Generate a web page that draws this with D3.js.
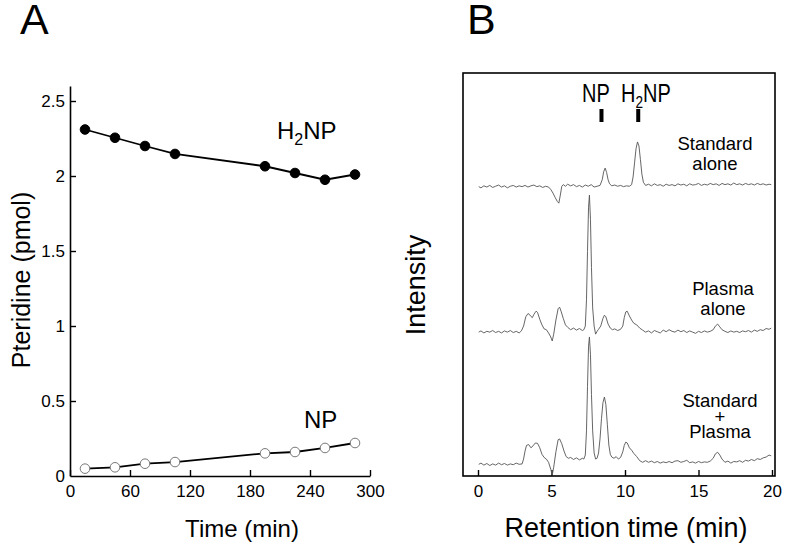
<!DOCTYPE html>
<html><head><meta charset="utf-8">
<script src="https://cdn.jsdelivr.net/npm/d3@7/dist/d3.min.js"></script>
<style>body{margin:0;background:#fff}svg{display:block;font-family:"Liberation Sans",Arial,Helvetica,sans-serif}</style>
</head><body><svg id="c" width="789" height="549"></svg>
<script>
// ---------- Panel A data ----------
const timesA = [15, 45, 75, 105, 195, 225, 255, 285];
const h2npValues = [2.31, 2.255, 2.2, 2.147, 2.065, 2.02, 1.975, 2.01];
const npValues = [0.049, 0.058, 0.082, 0.093, 0.151, 0.16, 0.187, 0.22];
const xTicksA = [0, 60, 120, 180, 240, 300];
const yTicksA = [0, 0.5, 1, 1.5, 2, 2.5];

// ---------- Panel B data (retention time, relative intensity) ----------
const xTicksB = [0, 5, 10, 15, 20];
const traceNames = ["Standard alone", "Plasma alone", "Standard + Plasma"];
const traceOffsets = [71.7, 35.7, 3.2];
const markerTimes = [8.4, 10.9];
const standardAlone = [[0.05,0.1],[0.2,-0.2],[0.4,0.3],[0.6,0.0],[0.8,0.4],[1.0,-0.1],[1.2,0.2],[1.4,0.5],[1.6,0.0],[1.8,0.3],[2.0,-0.2],[2.2,0.2],[2.4,0.4],[2.6,0.0],[2.8,0.3],[3.0,0.1],[3.2,0.4],[3.4,0.0],[3.6,0.3],[3.8,0.5],[4.0,0.1],[4.2,0.3],[4.4,-0.1],[4.6,0.2],[4.8,0.0],[4.95,-0.6],[5.1,-1.5],[5.25,-2.6],[5.4,-3.6],[5.5,-4.0],[5.6,-2.0],[5.7,0.2],[5.8,0.6],[5.95,0.2],[6.1,0.7],[6.3,0.3],[6.5,0.6],[6.7,0.1],[6.9,0.4],[7.1,0.0],[7.3,0.5],[7.5,0.2],[7.7,0.6],[7.9,0.0],[8.1,0.2],[8.3,0.4],[8.45,1.8],[8.55,3.8],[8.65,4.7],[8.75,3.6],[8.85,1.8],[8.95,0.8],[9.1,0.3],[9.3,0.5],[9.5,0.2],[9.7,0.4],[9.9,0.1],[10.1,0.3],[10.3,0.2],[10.45,0.6],[10.55,2.5],[10.65,6.0],[10.75,9.5],[10.85,11.2],[10.95,10.2],[11.05,6.8],[11.15,3.2],[11.25,1.2],[11.4,0.4],[11.6,0.7],[11.8,0.3],[12.0,0.8],[12.2,0.4],[12.4,0.6],[12.6,0.2],[12.8,0.7],[13.0,0.4],[13.2,0.6],[13.4,0.3],[13.6,0.8],[13.8,0.5],[14.0,0.7],[14.2,0.3],[14.4,0.8],[14.6,0.5],[14.8,0.6],[15.0,0.9],[15.2,0.4],[15.4,0.7],[15.6,0.5],[15.8,0.9],[16.0,0.6],[16.2,0.8],[16.4,0.4],[16.6,0.9],[16.8,0.6],[17.0,0.8],[17.2,0.5],[17.4,1.0],[17.6,0.6],[17.8,0.8],[18.0,0.5],[18.2,0.9],[18.4,0.6],[18.6,0.8],[18.8,0.5],[19.0,0.9],[19.2,0.6],[19.4,0.8],[19.6,0.5],[19.8,0.7],[19.95,0.6]];
const plasmaAlone = [[0.05,0.0],[0.2,0.3],[0.4,-0.2],[0.6,0.2],[0.8,0.0],[1.0,0.4],[1.2,-0.1],[1.4,0.2],[1.6,-0.2],[1.8,0.3],[2.0,0.0],[2.2,0.4],[2.4,-0.1],[2.6,0.2],[2.8,-0.2],[2.95,0.3],[3.1,1.5],[3.25,3.8],[3.4,4.6],[3.5,4.4],[3.6,3.9],[3.7,3.6],[3.8,4.4],[3.95,5.2],[4.05,4.9],[4.2,3.2],[4.35,1.8],[4.5,0.8],[4.65,0.6],[4.8,-0.2],[4.95,-1.2],[5.05,-2.2],[5.15,-0.5],[5.3,3.0],[5.45,5.8],[5.55,6.2],[5.65,5.2],[5.8,3.4],[5.95,1.8],[6.1,1.2],[6.3,0.6],[6.5,1.0],[6.7,0.5],[6.9,0.9],[7.1,0.4],[7.2,0.6],[7.3,1.5],[7.38,8],[7.45,20],[7.52,31],[7.58,34],[7.65,28],[7.72,16],[7.8,6],[7.9,1.5],[8.0,-0.5],[8.1,0.2],[8.2,0.7],[8.35,1.5],[8.5,3.4],[8.6,4.2],[8.7,3.8],[8.85,2.0],[9.0,1.0],[9.15,0.6],[9.3,0.8],[9.5,0.4],[9.7,0.7],[9.85,1.5],[9.95,3.6],[10.05,5.0],[10.15,5.2],[10.3,4.0],[10.45,3.0],[10.6,2.2],[10.8,1.8],[11.0,1.0],[11.2,0.5],[11.4,0.0],[11.6,0.3],[11.8,-0.2],[12.0,0.4],[12.2,0.1],[12.4,-0.2],[12.6,0.5],[12.8,0.1],[13.0,0.6],[13.2,0.2],[13.4,0.0],[13.6,0.5],[13.8,0.1],[14.0,0.4],[14.2,-0.1],[14.4,0.3],[14.6,0.0],[14.8,-0.3],[15.0,0.2],[15.2,-0.1],[15.4,0.3],[15.6,0.0],[15.8,0.2],[16.0,0.6],[16.15,1.5],[16.3,2.0],[16.45,1.3],[16.6,0.6],[16.8,0.2],[17.0,-0.1],[17.2,0.3],[17.4,0.0],[17.6,0.2],[17.8,-0.1],[18.0,0.3],[18.2,0.1],[18.4,0.4],[18.6,0.0],[18.8,0.5],[19.0,0.2],[19.2,0.6],[19.4,0.4],[19.6,0.9],[19.8,0.7],[19.95,1.0]];
const standardPlusPlasma = [[0.05,-0.3],[0.2,0.0],[0.4,-0.5],[0.6,-0.1],[0.8,-0.6],[1.0,-0.2],[1.2,-0.5],[1.4,0.0],[1.6,-0.4],[1.8,-0.1],[2.0,-0.5],[2.2,-0.2],[2.4,-0.4],[2.6,0.0],[2.8,-0.3],[3.0,-0.2],[3.1,1.0],[3.2,3.0],[3.3,4.4],[3.45,4.6],[3.6,3.8],[3.75,4.3],[3.9,5.0],[4.05,4.9],[4.2,3.8],[4.35,2.2],[4.5,1.4],[4.65,1.0],[4.8,0.2],[4.95,-1.5],[5.05,-3.0],[5.15,-1.0],[5.3,2.8],[5.45,5.8],[5.55,6.0],[5.7,4.8],[5.85,3.0],[6.0,1.6],[6.15,1.2],[6.3,1.4],[6.5,0.9],[6.7,1.3],[6.9,0.8],[7.1,1.2],[7.2,1.0],[7.3,2.0],[7.38,8],[7.45,19],[7.52,29],[7.58,31.3],[7.65,27],[7.72,17],[7.8,8],[7.9,2.5],[8.0,1.0],[8.1,1.2],[8.2,2.5],[8.3,6],[8.4,11],[8.5,15],[8.6,16.4],[8.7,14.5],[8.8,9.5],[8.9,4.5],[9.0,2.2],[9.1,1.5],[9.25,1.2],[9.4,1.6],[9.55,1.0],[9.7,1.4],[9.85,2.8],[9.95,4.4],[10.05,5.2],[10.15,5.0],[10.3,3.8],[10.45,3.2],[10.6,2.4],[10.8,1.6],[11.0,0.6],[11.2,0.2],[11.4,0.6],[11.6,0.2],[11.8,0.5],[12.0,0.1],[12.2,0.4],[12.4,0.0],[12.6,0.3],[12.8,0.1],[13.0,0.4],[13.2,0.1],[13.4,0.5],[13.6,0.6],[13.8,0.2],[14.0,0.4],[14.2,0.7],[14.4,0.1],[14.6,0.3],[14.8,0.0],[15.0,0.4],[15.2,0.1],[15.4,0.3],[15.6,0.2],[15.8,0.5],[16.0,1.2],[16.15,2.3],[16.3,2.7],[16.45,2.0],[16.6,1.0],[16.8,0.2],[17.0,0.5],[17.2,0.0],[17.4,0.4],[17.6,0.3],[17.8,0.6],[18.0,0.2],[18.2,0.7],[18.4,0.5],[18.6,0.9],[18.8,0.6],[19.0,1.1],[19.2,0.9],[19.4,1.3],[19.6,1.5],[19.8,2.0],[19.95,1.8]];
const traces = [standardAlone, plasmaAlone, standardPlusPlasma];

const svg = d3.select("#c");

// ---------- Panel A ----------
const xA = d3.scaleLinear().domain([0, 300]).range([70, 370]);
const yA = d3.scaleLinear().domain([0, 2.6]).range([476, 86]);
const gA = svg.append("g");

gA.append("g").attr("transform", `translate(0,${yA(0)})`)
  .call(d3.axisBottom(xA).tickValues(xTicksA).tickSizeInner(-6).tickSizeOuter(0).tickPadding(9))
  .call(g => g.select(".domain").attr("stroke-width", 1.6))
  .call(g => g.selectAll(".tick line").attr("stroke-width", 1.4))
  .call(g => g.selectAll("text").attr("font-size", 17).attr("font-family", "Liberation Sans, Arial, sans-serif").attr("fill", "#000"));
gA.append("g").attr("transform", `translate(${xA(0)},0)`)
  .call(d3.axisLeft(yA).tickValues(yTicksA).tickFormat(d => String(d)).tickSizeInner(-6).tickSizeOuter(0).tickPadding(5))
  .call(g => g.select(".domain").attr("stroke-width", 1.6))
  .call(g => g.selectAll(".tick line").attr("stroke-width", 1.4))
  .call(g => g.selectAll(".tick").filter(d => d === 0).select("line").remove())
  .call(g => g.selectAll("text").attr("font-size", 17).attr("font-family", "Liberation Sans, Arial, sans-serif").attr("fill", "#000"));

const lineA = d3.line().x(d => xA(d[0])).y(d => yA(d[1]));
const seriesA = [
  {vals: h2npValues, fill: "#000", stroke: "#000"},
  {vals: npValues, fill: "#fff", stroke: "#777"}
];
seriesA.forEach(s => {
  const pts = timesA.map((t, i) => [t, s.vals[i]]);
  gA.append("path").datum(pts).attr("d", lineA).attr("fill", "none").attr("stroke", "#000").attr("stroke-width", 1.8);
  gA.selectAll(null).data(pts).enter().append("circle")
    .attr("cx", d => xA(d[0])).attr("cy", d => yA(d[1])).attr("r", 4.8)
    .attr("fill", s.fill).attr("stroke", s.stroke).attr("stroke-width", 1);
});

gA.append("text").attr("x", 20).attr("y", 34).attr("font-size", 43).text("A");
const h2A = gA.append("text").attr("x", 277).attr("y", 139).attr("font-size", 24);
h2A.append("tspan").text("H");
h2A.append("tspan").attr("font-size", 16).attr("dy", 6).text("2");
h2A.append("tspan").attr("dy", -6).text("NP");
gA.append("text").attr("x", 304).attr("y", 428).attr("font-size", 24).text("NP");
gA.append("text").attr("x", 242).attr("y", 537).attr("font-size", 24).attr("text-anchor", "middle").text("Time (min)");
gA.append("text").attr("transform", "translate(30,280) rotate(-90)").attr("font-size", 25).attr("text-anchor", "middle").text("Pteridine (pmol)");

// ---------- Panel B ----------
const xB = d3.scaleLinear().domain([0, 20]).range([478, 772]);
const yB = d3.scaleLinear().domain([0, 100]).range([476, 73]);
const gB = svg.append("g");

gB.append("rect").attr("x", 463).attr("y", 73).attr("width", 312).attr("height", 403)
  .attr("fill", "none").attr("stroke", "#000").attr("stroke-width", 1.6);
gB.append("g").attr("transform", `translate(0,476)`)
  .call(d3.axisBottom(xB).tickValues(xTicksB).tickSizeInner(-6).tickSizeOuter(0).tickPadding(9))
  .call(g => g.select(".domain").remove())
  .call(g => g.selectAll(".tick line").attr("stroke-width", 1.4))
  .call(g => g.selectAll("text").attr("font-size", 17).attr("font-family", "Liberation Sans, Arial, sans-serif").attr("fill", "#000"));

traces.forEach((tr, i) => {
  const line = d3.line().x(d => xB(d[0])).y(d => yB(d[1] + traceOffsets[i]));
  gB.append("path").datum(tr).attr("d", line).attr("fill", "none")
    .attr("stroke", "#555").attr("stroke-width", 0.9).attr("stroke-linejoin", "round");
});

// markers
gB.selectAll(null).data(markerTimes).enter().append("rect")
  .attr("x", d => xB(d) - 2).attr("y", 109).attr("width", 4).attr("height", 13).attr("fill", "#000");
gB.append("text").attr("transform", "translate(596,102) scale(0.8,1)").attr("font-size", 25).attr("text-anchor", "middle").text("NP");
const h2B = gB.append("text").attr("transform", "translate(646,102) scale(0.8,1)").attr("font-size", 25).attr("text-anchor", "middle");
h2B.append("tspan").text("H");
h2B.append("tspan").attr("font-size", 17).attr("dy", 6).text("2");
h2B.append("tspan").attr("dy", -6).text("NP");

gB.append("text").attr("x", 467).attr("y", 34).attr("font-size", 43).text("B");

const labelPos = [
  {x: 715, ys: [150, 170], lines: ["Standard", "alone"]},
  {x: 723, ys: [295, 315], lines: ["Plasma", "alone"]},
  {x: 720, ys: [407, 423, 438], lines: ["Standard", "+", "Plasma"]}
];
labelPos.forEach(l => {
  l.lines.forEach((t, j) => {
    gB.append("text").attr("x", l.x).attr("y", l.ys[j]).attr("font-size", 18.5)
      .attr("text-anchor", "middle").text(t);
  });
});

gB.append("text").attr("x", 626).attr("y", 537).attr("font-size", 27).attr("text-anchor", "middle").text("Retention time (min)");
gB.append("text").attr("transform", "translate(425,285) rotate(-90)").attr("font-size", 27).attr("text-anchor", "middle").text("Intensity");
</script></body></html>
